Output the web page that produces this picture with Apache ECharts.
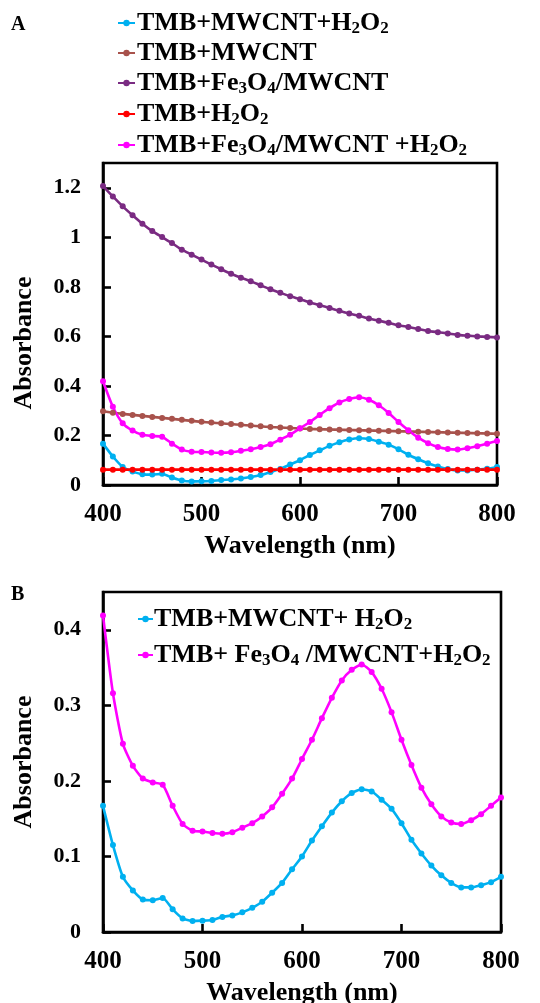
<!DOCTYPE html>
<html>
<head>
<meta charset="utf-8">
<script src="https://cdn.jsdelivr.net/npm/echarts@6/dist/echarts.min.js"></script>
<style>html,body{margin:0;padding:0;background:#fff}#c{width:540px;height:1003px}</style>
</head>
<body>
<div id="c"></div>
<script>
const wavelengths = [400,410,420,430,440,450,460,470,480,490,500,510,520,530,540,550,560,570,580,590,600,610,620,630,640,650,660,670,680,690,700,710,720,730,740,750,760,770,780,790,800];
const tmbMwcntH2o2 = [0.167,0.115,0.073,0.055,0.043,0.042,0.045,0.030,0.018,0.0145,0.015,0.016,0.020,0.022,0.026,0.032,0.040,0.052,0.065,0.083,0.100,0.121,0.140,0.158,0.173,0.184,0.189,0.186,0.175,0.163,0.144,0.122,0.104,0.088,0.075,0.065,0.059,0.059,0.062,0.066,0.073];
const tmbMwcnt = [0.298,0.292,0.287,0.283,0.279,0.275,0.271,0.267,0.263,0.259,0.255,0.252,0.249,0.246,0.243,0.240,0.237,0.234,0.232,0.230,0.228,0.226,0.225,0.224,0.223,0.222,0.221,0.220,0.219,0.218,0.217,0.216,0.215,0.214,0.213,0.212,0.211,0.210,0.209,0.208,0.207];
const tmbFe3o4Mwcnt = [1.207,1.165,1.125,1.089,1.055,1.025,1.001,0.977,0.950,0.930,0.910,0.890,0.871,0.853,0.837,0.823,0.806,0.790,0.776,0.762,0.750,0.737,0.726,0.715,0.703,0.692,0.683,0.672,0.663,0.655,0.645,0.638,0.630,0.622,0.617,0.612,0.606,0.603,0.600,0.598,0.596];
const tmbH2o2 = [0.062,0.062,0.062,0.062,0.062,0.062,0.062,0.062,0.062,0.062,0.062,0.062,0.062,0.062,0.062,0.062,0.062,0.062,0.062,0.062,0.062,0.062,0.062,0.062,0.062,0.062,0.062,0.062,0.062,0.062,0.062,0.062,0.062,0.062,0.062,0.062,0.062,0.062,0.062,0.062,0.062];
const tmbFe3o4MwcntH2o2 = [0.419,0.316,0.249,0.220,0.203,0.198,0.195,0.167,0.143,0.134,0.133,0.131,0.130,0.132,0.138,0.144,0.153,0.165,0.183,0.203,0.229,0.2545,0.283,0.310,0.333,0.347,0.354,0.344,0.322,0.291,0.2545,0.221,0.191,0.169,0.153,0.145,0.143,0.148,0.156,0.167,0.178];

const namesA = ['TMB+MWCNT+H2O2','TMB+MWCNT','TMB+Fe3O4/MWCNT','TMB+H2O2','TMB+Fe3O4/MWCNT +H2O2'];
const namesB = ['TMB+MWCNT+ H2O2','TMB+ Fe3O4 /MWCNT+H2O2'];
const xTicks = [400,500,600,700,800];

const colors = {cyan:'#00B0F0', brown:'#A8524C', purple:'#7A2B82', red:'#FF0000', magenta:'#FF00FF'};
const FONT = '"Liberation Serif", "Times New Roman", serif';

function pairs(ys){ return wavelengths.map((x,i)=>[x, ys[i]]); }
function richName(name){
  return name.replace(/(\D+)|(\d)/g, (m, a, d) => a ? '{n|' + a + '}' : '{s|' + d + '}');
}
function richStyle(fs, sfs, lh){
  return {
    n:{fontFamily:FONT, fontWeight:'bold', fontSize:fs, color:'#000', lineHeight:lh},
    s:{fontFamily:FONT, fontWeight:'bold', fontSize:sfs, color:'#000', lineHeight:sfs, padding:[lh - sfs + 2,0,0,0]}
  };
}
function line(name, data, color, xi, size){
  return {name:name, type:'line', xAxisIndex:xi, yAxisIndex:xi, data:pairs(data), smooth:0.2,
    symbol:'circle', symbolSize:size, showSymbol:true,
    lineStyle:{color:color, width:2.6}, itemStyle:{color:color}, animation:false};
}
function xAxis(gi){
  return {type:'value', gridIndex:gi, min:400, max:800, interval:100,
    name:'Wavelength (nm)', nameLocation:'middle', nameGap:48,
    nameTextStyle:{fontFamily:FONT, fontWeight:'bold', fontSize:26, color:'#000'},
    axisLine:{show:true, lineStyle:{color:'#000', width:2.6}},
    axisTick:{show:true, inside:true, length:8, lineStyle:{color:'#000', width:2.6}},
    axisLabel:{fontFamily:FONT, fontWeight:'bold', fontSize:25, color:'#000', margin:17},
    splitLine:{show:false}};
}
function yAxis(gi, max, interval, pad){
  return {type:'value', gridIndex:gi, min:0, max:max, interval:interval,
    name:'Absorbance', nameLocation:'middle', nameGap:66,
    nameTextStyle:{fontFamily:FONT, fontWeight:'bold', fontSize:26, color:'#000', padding:pad},
    axisLine:{show:true, lineStyle:{color:'#000', width:2.6}},
    axisTick:{show:true, inside:true, length:8, lineStyle:{color:'#000', width:2.6}},
    axisLabel:{fontFamily:FONT, fontWeight:'bold', fontSize:22, color:'#000', margin:22, showMaxLabel:false},
    splitLine:{show:false}};
}

const chart = echarts.init(document.getElementById('c'), null, {renderer:'canvas'});
chart.setOption({
  backgroundColor:'#fff',
  animation:false,
  grid:[
    {left:103, top:163, width:394, height:322, show:true, borderColor:'#000', borderWidth:2.6, outerBoundsMode:'none', containLabel:false},
    {left:103, top:592, width:398, height:340, show:true, borderColor:'#000', borderWidth:2.6, outerBoundsMode:'none', containLabel:false}
  ],
  xAxis:[xAxis(0), xAxis(1)],
  yAxis:[yAxis(0, 1.3, 0.2, [0,38,0,0]), yAxis(1, 0.45, 0.1, [0,0,0,0])],
  legend:[
    {data:namesA, orient:'vertical', left:117, top:9, padding:0, itemGap:3, itemWidth:17, itemHeight:8,
      formatter:richName, textStyle:{rich:richStyle(26,17,26), padding:[0,0,0,-3]}, selectedMode:false},
    {data:namesB, orient:'vertical', left:137, top:605, padding:0, itemGap:8, itemWidth:15, itemHeight:8,
      formatter:richName, textStyle:{rich:richStyle(26,17,26), padding:[0,0,0,-4]}, selectedMode:false}
  ],
  graphic:[
    {type:'text', left:11, top:15, style:{text:'A', fontFamily:FONT, fontWeight:'bold', fontSize:20, fill:'#000'}},
    {type:'text', left:11, top:585, style:{text:'B', fontFamily:FONT, fontWeight:'bold', fontSize:20, fill:'#000'}}
  ],
  series:[
    line(namesA[0], tmbMwcntH2o2, colors.cyan, 0, 6),
    line(namesA[1], tmbMwcnt, colors.brown, 0, 6),
    line(namesA[2], tmbFe3o4Mwcnt, colors.purple, 0, 6),
    line(namesA[3], tmbH2o2, colors.red, 0, 6),
    line(namesA[4], tmbFe3o4MwcntH2o2, colors.magenta, 0, 6),
    line(namesB[0], tmbMwcntH2o2, colors.cyan, 1, 6),
    line(namesB[1], tmbFe3o4MwcntH2o2, colors.magenta, 1, 6)
  ]
});
</script>
</body>
</html>
